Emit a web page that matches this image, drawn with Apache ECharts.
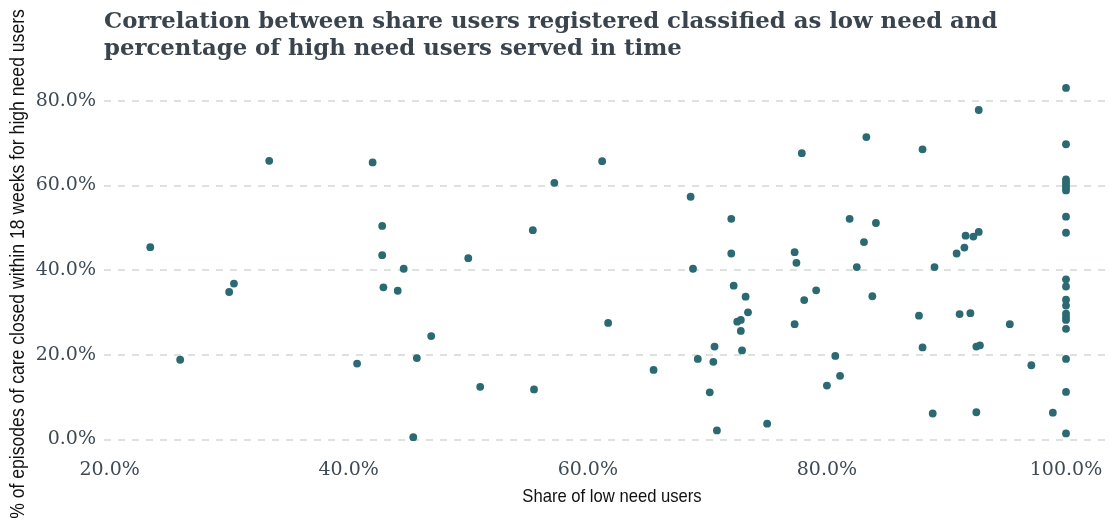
<!DOCTYPE html>
<html>
<head>
<meta charset="utf-8">
<script src="https://cdn.jsdelivr.net/npm/echarts@6/dist/echarts.min.js"></script>
<style>
  html, body { margin: 0; padding: 0; background: #ffffff; }
  #chart { width: 1110px; height: 519px; }
</style>
</head>
<body>
<div id="chart"></div>
<script>
// Share of users registered as low need (x) vs share of high need users
// whose episodes of care closed within 18 weeks (y), both in percent.
const lowNeedShare = [
  33.35, 42.0, 42.8, 23.4, 42.8, 50.0, 44.6, 30.4, 30.0, 42.9, 44.1, 46.9, 25.9, 40.7, 45.7, 51.0, 45.4,
  77.9, 61.2, 57.2, 68.6, 72.0, 55.4, 72.0, 77.3, 77.45, 68.8, 72.2, 79.1, 73.2, 78.1, 73.4, 72.5, 72.8,
  61.7, 77.3, 72.8, 70.6, 72.9, 69.2, 70.5, 65.5, 55.5, 80.0, 70.2, 75.0, 70.8,
  100, 92.7, 83.3, 88.0, 100, 81.9, 84.1, 83.1, 82.5, 91.6, 92.25, 92.7, 91.5, 90.85, 89.0, 83.8, 87.7,
  91.1, 92.0, 95.3, 88.0, 92.5, 92.8, 80.7, 81.1, 97.1, 88.85, 92.5, 98.9,
  100, 100, 100, 100, 100, 100, 100, 100, 100, 100, 100, 100, 100, 100, 100, 100, 100, 100
];
const highNeedInTime = [
  65.8, 65.4, 50.4, 45.4, 43.5, 42.8, 40.3, 36.8, 34.8, 35.9, 35.1, 24.4, 18.8, 17.9, 19.2, 12.4, 0.5,
  67.6, 65.7, 60.6, 57.3, 52.1, 49.4, 43.9, 44.2, 41.7, 40.3, 36.3, 35.2, 33.7, 32.9, 30.0, 27.8, 28.2,
  27.5, 27.2, 25.6, 21.9, 21.0, 19.0, 18.3, 16.4, 11.8, 12.7, 11.1, 3.7, 2.1,
  83.0, 77.8, 71.4, 68.5, 69.7, 52.1, 51.1, 46.6, 40.7, 48.1, 47.9, 49.0, 45.3, 43.9, 40.7, 33.8, 29.2,
  29.6, 29.8, 27.2, 21.7, 21.9, 22.2, 19.7, 15.0, 17.5, 6.1, 6.4, 6.3,
  61.4, 60.7, 60.0, 59.4, 58.8, 52.6, 48.8, 37.8, 36.1, 33.0, 31.6, 29.7, 28.9, 28.2, 26.1, 19.0, 11.2, 1.4
];
const xTicks = [20, 40, 60, 80, 100];
const yTicks = [0, 20, 40, 60, 80];

const titleText = 'Correlation between share users registered classified as low need and\npercentage of high need users served in time';
const xTitle = 'Share of low need users';
const yTitle = '% of episodes of care closed within 18 weeks for high need users';

const points = lowNeedShare.map((x, i) => [x, highNeedInTime[i]]);

const serif = '"DejaVu Serif", serif';
const sans = '"Liberation Sans", Arial, sans-serif';
const pct = v => v.toFixed(1) + '%';

const chart = echarts.init(document.getElementById('chart'), null, { renderer: 'canvas' });
chart.setOption({
  animation: false,
  backgroundColor: '#ffffff',
  title: {
    text: titleText,
    left: 104,
    top: 9,
    padding: 0,
    textStyle: {
      fontFamily: serif,
      fontWeight: 'bold',
      fontSize: 22.8,
      lineHeight: 27,
      color: '#3a444e'
    }
  },
  grid: { left: 104, right: 0, top: 79.5, bottom: 71.2, containLabel: false },
  xAxis: {
    type: 'value',
    min: 19.53,
    max: 103.68,
    axisLine: { show: false },
    axisTick: { show: false },
    splitLine: { show: false },
    axisLabel: {
      customValues: xTicks,
      formatter: pct,
      margin: 13,
      fontFamily: serif,
      fontSize: 19,
      color: '#3e4a55'
    }
  },
  yAxis: {
    type: 'value',
    min: -2,
    max: 85,
    axisLine: { show: false },
    axisTick: { show: false, customValues: yTicks },
    axisLabel: {
      customValues: yTicks,
      formatter: pct,
      margin: 8,
      fontFamily: serif,
      fontSize: 19,
      color: '#3e4a55'
    },
    splitLine: {
      show: true,
      lineStyle: { color: '#d3dcd4', width: 1.6, type: [7, 7] }
    }
  },
  graphic: [
    {
      type: 'text',
      x: 612, y: 497,
      scaleX: 0.875,
      style: {
        text: xTitle,
        font: '19px ' + sans,
        fill: '#111111',
        align: 'center',
        verticalAlign: 'middle'
      }
    },
    {
      type: 'text',
      x: 18, y: 264,
      rotation: Math.PI / 2,
      scaleX: 0.88,
      style: {
        text: yTitle,
        font: '20px ' + sans,
        fill: '#111111',
        align: 'center',
        verticalAlign: 'middle'
      }
    }
  ],
  series: [{
    type: 'scatter',
    data: points,
    symbol: 'circle',
    symbolSize: 7.8,
    itemStyle: { color: '#2b6a73', opacity: 1 },
    emphasis: { disabled: true }
  }]
});
</script>
</body>
</html>
